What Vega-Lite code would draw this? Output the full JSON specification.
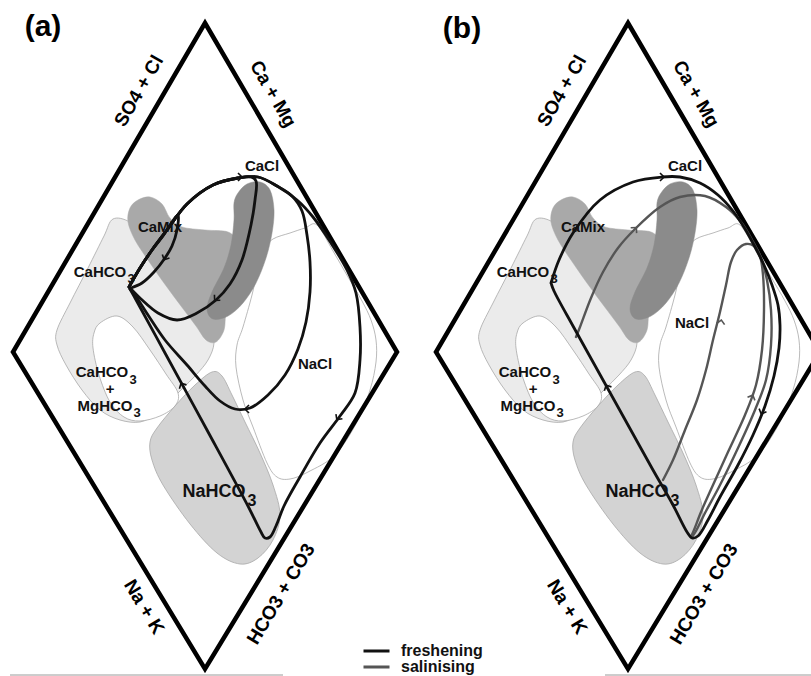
{
  "$schema": "https://vega.github.io/schema/vega-lite/v6.json",
  "padding": 0,
  "autosize": {"type": "pad"},
  "bounds": "flush",
  "spacing": 0,
  "background": "white",
  "config": {"view": {"stroke": null}},
  "resolve": {"scale": {"color": "shared"}, "legend": {"color": "shared"}},
  "datasets": {
    "field": [
      {"s":"light","i":1,"x":113,"y":219},{"s":"light","i":2,"x":130,"y":222},{"s":"light","i":3,"x":150,"y":238},{"s":"light","i":4,"x":172,"y":266},{"s":"light","i":5,"x":195,"y":300},{"s":"light","i":6,"x":210,"y":325},{"s":"light","i":7,"x":214,"y":343},{"s":"light","i":8,"x":208,"y":360},{"s":"light","i":9,"x":196,"y":375},{"s":"light","i":10,"x":182,"y":389},{"s":"light","i":11,"x":169,"y":402},{"s":"light","i":12,"x":156,"y":414},{"s":"light","i":13,"x":140,"y":422},{"s":"light","i":14,"x":120,"y":420},{"s":"light","i":15,"x":100,"y":410},{"s":"light","i":16,"x":82,"y":390},{"s":"light","i":17,"x":66,"y":365},{"s":"light","i":18,"x":57,"y":345},{"s":"light","i":19,"x":57,"y":330},{"s":"light","i":20,"x":70,"y":303},{"s":"light","i":21,"x":88,"y":268},{"s":"light","i":22,"x":104,"y":236},
      {"s":"hole","i":1,"x":100,"y":323},{"s":"hole","i":2,"x":117,"y":316},{"s":"hole","i":3,"x":133,"y":327},{"s":"hole","i":4,"x":150,"y":350},{"s":"hole","i":5,"x":166,"y":374},{"s":"hole","i":6,"x":178,"y":393},{"s":"hole","i":7,"x":175,"y":406},{"s":"hole","i":8,"x":160,"y":416},{"s":"hole","i":9,"x":140,"y":421},{"s":"hole","i":10,"x":124,"y":417},{"s":"hole","i":11,"x":110,"y":402},{"s":"hole","i":12,"x":99,"y":375},{"s":"hole","i":13,"x":93,"y":348},{"s":"hole","i":14,"x":94,"y":333},
      {"s":"nacl","i":1,"x":273,"y":239},{"s":"nacl","i":2,"x":290,"y":233},{"s":"nacl","i":3,"x":305,"y":228},{"s":"nacl","i":4,"x":317,"y":225},{"s":"nacl","i":5,"x":333,"y":251},{"s":"nacl","i":6,"x":348,"y":277},{"s":"nacl","i":7,"x":362,"y":301},{"s":"nacl","i":8,"x":371,"y":320},{"s":"nacl","i":9,"x":376,"y":340},{"s":"nacl","i":10,"x":376,"y":362},{"s":"nacl","i":11,"x":370,"y":390},{"s":"nacl","i":12,"x":357,"y":422},{"s":"nacl","i":13,"x":335,"y":455},{"s":"nacl","i":14,"x":308,"y":472},{"s":"nacl","i":15,"x":290,"y":479},{"s":"nacl","i":16,"x":277,"y":477},{"s":"nacl","i":17,"x":267,"y":463},{"s":"nacl","i":18,"x":253,"y":427},{"s":"nacl","i":19,"x":243,"y":400},{"s":"nacl","i":20,"x":236,"y":367},{"s":"nacl","i":21,"x":237,"y":345},{"s":"nacl","i":22,"x":243,"y":327},{"s":"nacl","i":23,"x":252,"y":295},{"s":"nacl","i":24,"x":258,"y":268},{"s":"nacl","i":25,"x":263,"y":250},
      {"s":"nahco3","i":1,"x":212,"y":372},{"s":"nahco3","i":2,"x":222,"y":376},{"s":"nahco3","i":3,"x":232,"y":395},{"s":"nahco3","i":4,"x":245,"y":422},{"s":"nahco3","i":5,"x":260,"y":453},{"s":"nahco3","i":6,"x":273,"y":485},{"s":"nahco3","i":7,"x":280,"y":515},{"s":"nahco3","i":8,"x":273,"y":540},{"s":"nahco3","i":9,"x":258,"y":558},{"s":"nahco3","i":10,"x":240,"y":564},{"s":"nahco3","i":11,"x":217,"y":553},{"s":"nahco3","i":12,"x":190,"y":524},{"s":"nahco3","i":13,"x":163,"y":485},{"s":"nahco3","i":14,"x":152,"y":460},{"s":"nahco3","i":15,"x":150,"y":442},{"s":"nahco3","i":16,"x":157,"y":428},{"s":"nahco3","i":17,"x":175,"y":406},{"s":"nahco3","i":18,"x":195,"y":385},
      {"s":"camix","i":1,"x":130,"y":208},{"s":"camix","i":2,"x":138,"y":200},{"s":"camix","i":3,"x":150,"y":197},{"s":"camix","i":4,"x":162,"y":204},{"s":"camix","i":5,"x":170,"y":218},{"s":"camix","i":6,"x":182,"y":227},{"s":"camix","i":7,"x":205,"y":230},{"s":"camix","i":8,"x":228,"y":232},{"s":"camix","i":9,"x":236,"y":242},{"s":"camix","i":10,"x":236,"y":265},{"s":"camix","i":11,"x":232,"y":292},{"s":"camix","i":12,"x":226,"y":312},{"s":"camix","i":13,"x":224,"y":330},{"s":"camix","i":14,"x":216,"y":342},{"s":"camix","i":15,"x":206,"y":340},{"s":"camix","i":16,"x":196,"y":326},{"s":"camix","i":17,"x":181,"y":306},{"s":"camix","i":18,"x":164,"y":283},{"s":"camix","i":19,"x":148,"y":260},{"s":"camix","i":20,"x":135,"y":240},{"s":"camix","i":21,"x":128,"y":222},
      {"s":"cacl","i":1,"x":238,"y":193},{"s":"cacl","i":2,"x":247,"y":184},{"s":"cacl","i":3,"x":260,"y":182},{"s":"cacl","i":4,"x":270,"y":190},{"s":"cacl","i":5,"x":274,"y":210},{"s":"cacl","i":6,"x":272,"y":233},{"s":"cacl","i":7,"x":266,"y":258},{"s":"cacl","i":8,"x":256,"y":283},{"s":"cacl","i":9,"x":243,"y":303},{"s":"cacl","i":10,"x":228,"y":316},{"s":"cacl","i":11,"x":213,"y":319},{"s":"cacl","i":12,"x":207,"y":309},{"s":"cacl","i":13,"x":212,"y":292},{"s":"cacl","i":14,"x":224,"y":268},{"s":"cacl","i":15,"x":231,"y":245},{"s":"cacl","i":16,"x":234,"y":220},{"s":"cacl","i":17,"x":234,"y":203},
      {"s":"diamond","i":1,"x":205,"y":23},{"s":"diamond","i":2,"x":397,"y":352},{"s":"diamond","i":3,"x":205,"y":669},{"s":"diamond","i":4,"x":13,"y":352}
    ],
    "labels": [
      {"k":"name","text":"CaCl","x":262,"y":166},
      {"k":"name","text":"CaMix","x":160,"y":227},
      {"k":"name","text":"CaHCO","x":100,"y":272},
      {"k":"sub","text":"3","x":131,"y":279},
      {"k":"name","text":"CaHCO","x":102,"y":372},
      {"k":"sub","text":"3","x":133,"y":380},
      {"k":"name","text":"+","x":110,"y":389},
      {"k":"name","text":"MgHCO","x":105,"y":406},
      {"k":"sub","text":"3","x":137,"y":413},
      {"k":"big","text":"NaHCO","x":214,"y":492},
      {"k":"bigsub","text":"3","x":252,"y":501},
      {"k":"ul","text":"SO4 + Cl","x":139,"y":91},
      {"k":"ur","text":"Ca + Mg","x":273,"y":94},
      {"k":"ll","text":"Na + K","x":144,"y":607},
      {"k":"lr","text":"HCO3 + CO3","x":281,"y":594}
    ],
    "tagsA": [
      {"k":"panel","text":"(a)","x":43,"y":27},
      {"k":"name","text":"NaCl","x":315,"y":364}
    ],
    "tagsB": [
      {"k":"panel","text":"(b)","x":39,"y":29},
      {"k":"name","text":"NaCl","x":269,"y":323}
    ],
    "baseA": [{"i":1,"x":10,"y":675},{"i":2,"x":283,"y":675}],
    "baseB": [{"i":1,"x":182,"y":675},{"i":2,"x":400,"y":675}],
    "pathsA": [
      {"p":"outer","process":"freshening","i":1,"x":129,"y":287},{"p":"outer","process":"freshening","i":2,"x":140,"y":268},{"p":"outer","process":"freshening","i":3,"x":152,"y":250},{"p":"outer","process":"freshening","i":4,"x":167,"y":230},{"p":"outer","process":"freshening","i":5,"x":187,"y":204},{"p":"outer","process":"freshening","i":6,"x":213,"y":185},{"p":"outer","process":"freshening","i":7,"x":238,"y":178},{"p":"outer","process":"freshening","i":8,"x":258,"y":177},{"p":"outer","process":"freshening","i":9,"x":277,"y":186},{"p":"outer","process":"freshening","i":10,"x":297,"y":200},{"p":"outer","process":"freshening","i":11,"x":313,"y":217},{"p":"outer","process":"freshening","i":12,"x":331,"y":243},{"p":"outer","process":"freshening","i":13,"x":347,"y":270},{"p":"outer","process":"freshening","i":14,"x":356,"y":293},{"p":"outer","process":"freshening","i":15,"x":360,"y":327},{"p":"outer","process":"freshening","i":16,"x":360,"y":360},{"p":"outer","process":"freshening","i":17,"x":355,"y":393},{"p":"outer","process":"freshening","i":18,"x":340,"y":416},{"p":"outer","process":"freshening","i":19,"x":320,"y":443},{"p":"outer","process":"freshening","i":20,"x":300,"y":477},{"p":"outer","process":"freshening","i":21,"x":284,"y":506},{"p":"outer","process":"freshening","i":22,"x":276,"y":526},{"p":"outer","process":"freshening","i":23,"x":270,"y":537},{"p":"outer","process":"freshening","i":24,"x":265,"y":538},{"p":"outer","process":"freshening","i":25,"x":261,"y":532},{"p":"outer","process":"freshening","i":26,"x":249,"y":508},{"p":"outer","process":"freshening","i":27,"x":207,"y":430},{"p":"outer","process":"freshening","i":28,"x":165,"y":353},{"p":"outer","process":"freshening","i":29,"x":135,"y":298},{"p":"outer","process":"freshening","i":30,"x":130,"y":289},
      {"p":"nacl","process":"freshening","i":1,"x":129,"y":287},{"p":"nacl","process":"freshening","i":2,"x":140,"y":268},{"p":"nacl","process":"freshening","i":3,"x":152,"y":250},{"p":"nacl","process":"freshening","i":4,"x":167,"y":230},{"p":"nacl","process":"freshening","i":5,"x":187,"y":204},{"p":"nacl","process":"freshening","i":6,"x":213,"y":185},{"p":"nacl","process":"freshening","i":7,"x":238,"y":178},{"p":"nacl","process":"freshening","i":8,"x":258,"y":177},{"p":"nacl","process":"freshening","i":9,"x":277,"y":186},{"p":"nacl","process":"freshening","i":10,"x":292,"y":196},{"p":"nacl","process":"freshening","i":11,"x":302,"y":211},{"p":"nacl","process":"freshening","i":12,"x":307,"y":235},{"p":"nacl","process":"freshening","i":13,"x":310,"y":262},{"p":"nacl","process":"freshening","i":14,"x":310,"y":292},{"p":"nacl","process":"freshening","i":15,"x":306,"y":322},{"p":"nacl","process":"freshening","i":16,"x":298,"y":349},{"p":"nacl","process":"freshening","i":17,"x":285,"y":375},{"p":"nacl","process":"freshening","i":18,"x":268,"y":395},{"p":"nacl","process":"freshening","i":19,"x":250,"y":408},{"p":"nacl","process":"freshening","i":20,"x":235,"y":409},{"p":"nacl","process":"freshening","i":21,"x":220,"y":401},{"p":"nacl","process":"freshening","i":22,"x":205,"y":386},{"p":"nacl","process":"freshening","i":23,"x":187,"y":365},{"p":"nacl","process":"freshening","i":24,"x":165,"y":340},{"p":"nacl","process":"freshening","i":25,"x":148,"y":315},{"p":"nacl","process":"freshening","i":26,"x":137,"y":298},{"p":"nacl","process":"freshening","i":27,"x":130,"y":289},
      {"p":"cacl","process":"freshening","i":1,"x":129,"y":287},{"p":"cacl","process":"freshening","i":2,"x":140,"y":268},{"p":"cacl","process":"freshening","i":3,"x":152,"y":250},{"p":"cacl","process":"freshening","i":4,"x":167,"y":230},{"p":"cacl","process":"freshening","i":5,"x":187,"y":204},{"p":"cacl","process":"freshening","i":6,"x":213,"y":185},{"p":"cacl","process":"freshening","i":7,"x":238,"y":178},{"p":"cacl","process":"freshening","i":8,"x":251,"y":177},{"p":"cacl","process":"freshening","i":9,"x":256,"y":181},{"p":"cacl","process":"freshening","i":10,"x":255,"y":200},{"p":"cacl","process":"freshening","i":11,"x":251,"y":225},{"p":"cacl","process":"freshening","i":12,"x":242,"y":260},{"p":"cacl","process":"freshening","i":13,"x":230,"y":284},{"p":"cacl","process":"freshening","i":14,"x":216,"y":300},{"p":"cacl","process":"freshening","i":15,"x":197,"y":313},{"p":"cacl","process":"freshening","i":16,"x":177,"y":320},{"p":"cacl","process":"freshening","i":17,"x":158,"y":313},{"p":"cacl","process":"freshening","i":18,"x":141,"y":299},{"p":"cacl","process":"freshening","i":19,"x":131,"y":289},
      {"p":"tear","process":"freshening","i":1,"x":129,"y":287},{"p":"tear","process":"freshening","i":2,"x":140,"y":268},{"p":"tear","process":"freshening","i":3,"x":152,"y":250},{"p":"tear","process":"freshening","i":4,"x":163,"y":236},{"p":"tear","process":"freshening","i":5,"x":172,"y":222},{"p":"tear","process":"freshening","i":6,"x":178,"y":215},{"p":"tear","process":"freshening","i":7,"x":177,"y":230},{"p":"tear","process":"freshening","i":8,"x":172,"y":246},{"p":"tear","process":"freshening","i":9,"x":165,"y":258},{"p":"tear","process":"freshening","i":10,"x":154,"y":272},{"p":"tear","process":"freshening","i":11,"x":142,"y":283},{"p":"tear","process":"freshening","i":12,"x":131,"y":288}
    ],
    "pathsB": [
      {"p":"loop","process":"freshening","i":1,"x":128,"y":283},{"p":"loop","process":"freshening","i":2,"x":131,"y":291},{"p":"loop","process":"freshening","i":3,"x":150,"y":326},{"p":"loop","process":"freshening","i":4,"x":170,"y":362},{"p":"loop","process":"freshening","i":5,"x":190,"y":398},{"p":"loop","process":"freshening","i":6,"x":210,"y":434},{"p":"loop","process":"freshening","i":7,"x":230,"y":470},{"p":"loop","process":"freshening","i":8,"x":250,"y":505},{"p":"loop","process":"freshening","i":9,"x":264,"y":532},{"p":"loop","process":"freshening","i":10,"x":269,"y":538},{"p":"loop","process":"freshening","i":11,"x":275,"y":536},{"p":"loop","process":"freshening","i":12,"x":285,"y":520},{"p":"loop","process":"freshening","i":13,"x":297,"y":497},{"p":"loop","process":"freshening","i":14,"x":315,"y":465},{"p":"loop","process":"freshening","i":15,"x":330,"y":435},{"p":"loop","process":"freshening","i":16,"x":342,"y":406},{"p":"loop","process":"freshening","i":17,"x":351,"y":376},{"p":"loop","process":"freshening","i":18,"x":356,"y":348},{"p":"loop","process":"freshening","i":19,"x":357,"y":325},{"p":"loop","process":"freshening","i":20,"x":355,"y":305},{"p":"loop","process":"freshening","i":21,"x":349,"y":285},{"p":"loop","process":"freshening","i":22,"x":341,"y":265},{"p":"loop","process":"freshening","i":23,"x":332,"y":247},{"p":"loop","process":"freshening","i":24,"x":322,"y":229},{"p":"loop","process":"freshening","i":25,"x":310,"y":211},{"p":"loop","process":"freshening","i":26,"x":295,"y":195},{"p":"loop","process":"freshening","i":27,"x":277,"y":183},{"p":"loop","process":"freshening","i":28,"x":257,"y":177},{"p":"loop","process":"freshening","i":29,"x":239,"y":177},{"p":"loop","process":"freshening","i":30,"x":210,"y":182},{"p":"loop","process":"freshening","i":31,"x":177,"y":200},{"p":"loop","process":"freshening","i":32,"x":150,"y":233},{"p":"loop","process":"freshening","i":33,"x":136,"y":260},{"p":"loop","process":"freshening","i":34,"x":128,"y":283},
      {"p":"arc","process":"salinising","i":1,"x":153,"y":337},{"p":"arc","process":"salinising","i":2,"x":157,"y":327},{"p":"arc","process":"salinising","i":3,"x":168,"y":298},{"p":"arc","process":"salinising","i":4,"x":180,"y":272},{"p":"arc","process":"salinising","i":5,"x":195,"y":248},{"p":"arc","process":"salinising","i":6,"x":212,"y":229},{"p":"arc","process":"salinising","i":7,"x":237,"y":207},{"p":"arc","process":"salinising","i":8,"x":257,"y":197},{"p":"arc","process":"salinising","i":9,"x":282,"y":196},{"p":"arc","process":"salinising","i":10,"x":303,"y":207},{"p":"arc","process":"salinising","i":11,"x":318,"y":222},{"p":"arc","process":"salinising","i":12,"x":329,"y":240},{"p":"arc","process":"salinising","i":13,"x":338,"y":258},{"p":"arc","process":"salinising","i":14,"x":344,"y":280},{"p":"arc","process":"salinising","i":15,"x":348,"y":310},{"p":"arc","process":"salinising","i":16,"x":348,"y":345},{"p":"arc","process":"salinising","i":17,"x":343,"y":380},{"p":"arc","process":"salinising","i":18,"x":332,"y":410},{"p":"arc","process":"salinising","i":19,"x":315,"y":448},{"p":"arc","process":"salinising","i":20,"x":296,"y":487},{"p":"arc","process":"salinising","i":21,"x":282,"y":513},{"p":"arc","process":"salinising","i":22,"x":273,"y":531},{"p":"arc","process":"salinising","i":23,"x":269,"y":537},
      {"p":"nacl","process":"salinising","i":1,"x":240,"y":480},{"p":"nacl","process":"salinising","i":2,"x":250,"y":460},{"p":"nacl","process":"salinising","i":3,"x":262,"y":430},{"p":"nacl","process":"salinising","i":4,"x":274,"y":400},{"p":"nacl","process":"salinising","i":5,"x":283,"y":370},{"p":"nacl","process":"salinising","i":6,"x":290,"y":340},{"p":"nacl","process":"salinising","i":7,"x":297,"y":312},{"p":"nacl","process":"salinising","i":8,"x":303,"y":285},{"p":"nacl","process":"salinising","i":9,"x":308,"y":262},{"p":"nacl","process":"salinising","i":10,"x":314,"y":250},{"p":"nacl","process":"salinising","i":11,"x":323,"y":244},{"p":"nacl","process":"salinising","i":12,"x":331,"y":246},{"p":"nacl","process":"salinising","i":13,"x":337,"y":256},{"p":"nacl","process":"salinising","i":14,"x":340,"y":275},{"p":"nacl","process":"salinising","i":15,"x":341,"y":310},{"p":"nacl","process":"salinising","i":16,"x":339,"y":350},{"p":"nacl","process":"salinising","i":17,"x":333,"y":385},{"p":"nacl","process":"salinising","i":18,"x":322,"y":415},{"p":"nacl","process":"salinising","i":19,"x":305,"y":452},{"p":"nacl","process":"salinising","i":20,"x":290,"y":485},{"p":"nacl","process":"salinising","i":21,"x":278,"y":512},{"p":"nacl","process":"salinising","i":22,"x":271,"y":530},{"p":"nacl","process":"salinising","i":23,"x":268,"y":537}
    ],
    "arrowsA": [
      {"process":"freshening","x":240,"y":177,"dir":0},
      {"process":"freshening","x":165,"y":258,"dir":117},
      {"process":"freshening","x":216,"y":299,"dir":133},
      {"process":"freshening","x":182,"y":385,"dir":242},
      {"process":"freshening","x":247,"y":409,"dir":180},
      {"process":"freshening","x":338,"y":418,"dir":126}
    ],
    "arrowsB": [
      {"process":"freshening","x":239,"y":177,"dir":0},
      {"process":"salinising","x":212,"y":229,"dir":-48},
      {"process":"salinising","x":298,"y":322,"dir":-80},
      {"process":"freshening","x":184,"y":387,"dir":242},
      {"process":"salinising","x":329,"y":397,"dir":-67},
      {"process":"freshening","x":339,"y":412,"dir":113}
    ]
  },
  "hconcat": [
    {
      "width": 423,
      "height": 676,
      "encoding": {
        "x": {"field": "x", "type": "quantitative", "scale": {"domain": [0, 423], "nice": false, "zero": false}, "axis": null},
        "y": {"field": "y", "type": "quantitative", "scale": {"domain": [0, 676], "nice": false, "zero": false, "reverse": true}, "axis": null}
      },
      "layer": [
        {"data": {"name": "field"}, "transform": [{"filter": {"field": "s", "equal": "light"}}], "mark": {"type": "line", "interpolate": "cardinal-closed", "fill": "#ebebeb", "stroke": "#a8a8a8", "strokeWidth": 0.8}, "encoding": {"order": {"field": "i", "type": "quantitative"}}},
        {"data": {"name": "field"}, "transform": [{"filter": {"field": "s", "equal": "hole"}}], "mark": {"type": "line", "interpolate": "cardinal-closed", "fill": "#ffffff", "stroke": "#a8a8a8", "strokeWidth": 0.8}, "encoding": {"order": {"field": "i", "type": "quantitative"}}},
        {"data": {"name": "field"}, "transform": [{"filter": {"field": "s", "equal": "nacl"}}], "mark": {"type": "line", "interpolate": "cardinal-closed", "fill": "#ffffff", "stroke": "#a8a8a8", "strokeWidth": 0.8}, "encoding": {"order": {"field": "i", "type": "quantitative"}}},
        {"data": {"name": "field"}, "transform": [{"filter": {"field": "s", "equal": "nahco3"}}], "mark": {"type": "line", "interpolate": "cardinal-closed", "fill": "#d3d3d3", "stroke": "#a8a8a8", "strokeWidth": 0.8}, "encoding": {"order": {"field": "i", "type": "quantitative"}}},
        {"data": {"name": "field"}, "transform": [{"filter": {"field": "s", "equal": "camix"}}], "mark": {"type": "line", "interpolate": "cardinal-closed", "fill": "#a9a9a9", "stroke": "#a9a9a9", "strokeWidth": 0.5}, "encoding": {"order": {"field": "i", "type": "quantitative"}}},
        {"data": {"name": "field"}, "transform": [{"filter": {"field": "s", "equal": "cacl"}}], "mark": {"type": "line", "interpolate": "cardinal-closed", "fill": "#8b8b8b", "stroke": "#8b8b8b", "strokeWidth": 0.5}, "encoding": {"order": {"field": "i", "type": "quantitative"}}},
        {"data": {"name": "field"}, "transform": [{"filter": {"field": "s", "equal": "diamond"}}], "mark": {"type": "line", "interpolate": "linear-closed", "stroke": "#000000", "strokeWidth": 4.5, "strokeJoin": "miter", "clip": true}, "encoding": {"order": {"field": "i", "type": "quantitative"}}},
        {"data": {"name": "baseA"}, "mark": {"type": "line", "stroke": "#9a9a9a", "strokeWidth": 1}, "encoding": {"order": {"field": "i", "type": "quantitative"}}},
        {"data": {"name": "pathsA"}, "mark": {"type": "line", "interpolate": "catmull-rom", "strokeWidth": 2.8, "strokeCap": "round", "strokeJoin": "round", "clip": true},
         "encoding": {
           "order": {"field": "i", "type": "quantitative"},
           "detail": {"field": "p", "type": "nominal"},
           "color": {"field": "process", "type": "nominal", "scale": {"domain": ["freshening", "salinising"], "range": ["#111111", "#555555"]},
             "legend": {"orient": "none", "legendX": 362, "legendY": 644, "title": null, "symbolType": "stroke", "symbolStrokeWidth": 3, "symbolSize": 676, "labelFont": "Liberation Sans", "labelFontWeight": "bold", "labelFontSize": 16, "labelColor": "#111111", "labelOffset": 10, "clipHeight": 14, "rowPadding": 0, "padding": 0}}
         }},
        {"data": {"name": "arrowsA"}, "mark": {"type": "point", "shape": "M-0.5,-1L0.5,0L-0.5,1", "filled": false, "size": 64, "strokeWidth": 1.6, "color": "#111111", "opacity": 1},
         "encoding": {"angle": {"field": "dir", "type": "quantitative", "scale": null}}},
        {"data": {"name": "labels"}, "transform": [{"filter": {"field": "k", "equal": "name"}}], "mark": {"type": "text", "font": "Liberation Sans", "fontWeight": "bold", "fontSize": 15, "color": "#111111"}, "encoding": {"text": {"field": "text", "type": "nominal"}}},
        {"data": {"name": "labels"}, "transform": [{"filter": {"field": "k", "equal": "sub"}}], "mark": {"type": "text", "font": "Liberation Sans", "fontWeight": "bold", "fontSize": 13, "color": "#111111"}, "encoding": {"text": {"field": "text", "type": "nominal"}}},
        {"data": {"name": "labels"}, "transform": [{"filter": {"field": "k", "equal": "big"}}], "mark": {"type": "text", "font": "Liberation Sans", "fontWeight": "bold", "fontSize": 18, "color": "#111111"}, "encoding": {"text": {"field": "text", "type": "nominal"}}},
        {"data": {"name": "labels"}, "transform": [{"filter": {"field": "k", "equal": "bigsub"}}], "mark": {"type": "text", "font": "Liberation Sans", "fontWeight": "bold", "fontSize": 16, "color": "#111111"}, "encoding": {"text": {"field": "text", "type": "nominal"}}},
        {"data": {"name": "labels"}, "transform": [{"filter": {"field": "k", "equal": "ul"}}], "mark": {"type": "text", "font": "Liberation Sans", "fontWeight": "bold", "fontSize": 19, "angle": -60, "color": "#000000"}, "encoding": {"text": {"field": "text", "type": "nominal"}}},
        {"data": {"name": "labels"}, "transform": [{"filter": {"field": "k", "equal": "ur"}}], "mark": {"type": "text", "font": "Liberation Sans", "fontWeight": "bold", "fontSize": 19, "angle": 60, "color": "#000000"}, "encoding": {"text": {"field": "text", "type": "nominal"}}},
        {"data": {"name": "labels"}, "transform": [{"filter": {"field": "k", "equal": "ll"}}], "mark": {"type": "text", "font": "Liberation Sans", "fontWeight": "bold", "fontSize": 19, "angle": 59, "color": "#000000"}, "encoding": {"text": {"field": "text", "type": "nominal"}}},
        {"data": {"name": "labels"}, "transform": [{"filter": {"field": "k", "equal": "lr"}}], "mark": {"type": "text", "font": "Liberation Sans", "fontWeight": "bold", "fontSize": 19, "angle": -59, "color": "#000000"}, "encoding": {"text": {"field": "text", "type": "nominal"}}},
        {"data": {"name": "tagsA"}, "transform": [{"filter": {"field": "k", "equal": "panel"}}], "mark": {"type": "text", "font": "Liberation Sans", "fontWeight": "bold", "fontSize": 30, "color": "#000000"}, "encoding": {"text": {"field": "text", "type": "nominal"}}},
        {"data": {"name": "tagsA"}, "transform": [{"filter": {"field": "k", "equal": "name"}}], "mark": {"type": "text", "font": "Liberation Sans", "fontWeight": "bold", "fontSize": 15, "color": "#111111"}, "encoding": {"text": {"field": "text", "type": "nominal"}}}
      ]
    },
    {
      "width": 388,
      "height": 676,
      "encoding": {
        "x": {"field": "x", "type": "quantitative", "scale": {"domain": [0, 388], "nice": false, "zero": false}, "axis": null},
        "y": {"field": "y", "type": "quantitative", "scale": {"domain": [0, 676], "nice": false, "zero": false, "reverse": true}, "axis": null}
      },
      "layer": [
        {"data": {"name": "field"}, "transform": [{"filter": {"field": "s", "equal": "light"}}], "mark": {"type": "line", "interpolate": "cardinal-closed", "fill": "#ebebeb", "stroke": "#a8a8a8", "strokeWidth": 0.8}, "encoding": {"order": {"field": "i", "type": "quantitative"}}},
        {"data": {"name": "field"}, "transform": [{"filter": {"field": "s", "equal": "hole"}}], "mark": {"type": "line", "interpolate": "cardinal-closed", "fill": "#ffffff", "stroke": "#a8a8a8", "strokeWidth": 0.8}, "encoding": {"order": {"field": "i", "type": "quantitative"}}},
        {"data": {"name": "field"}, "transform": [{"filter": {"field": "s", "equal": "nacl"}}], "mark": {"type": "line", "interpolate": "cardinal-closed", "fill": "#ffffff", "stroke": "#a8a8a8", "strokeWidth": 0.8}, "encoding": {"order": {"field": "i", "type": "quantitative"}}},
        {"data": {"name": "field"}, "transform": [{"filter": {"field": "s", "equal": "nahco3"}}], "mark": {"type": "line", "interpolate": "cardinal-closed", "fill": "#d3d3d3", "stroke": "#a8a8a8", "strokeWidth": 0.8}, "encoding": {"order": {"field": "i", "type": "quantitative"}}},
        {"data": {"name": "field"}, "transform": [{"filter": {"field": "s", "equal": "camix"}}], "mark": {"type": "line", "interpolate": "cardinal-closed", "fill": "#a9a9a9", "stroke": "#a9a9a9", "strokeWidth": 0.5}, "encoding": {"order": {"field": "i", "type": "quantitative"}}},
        {"data": {"name": "field"}, "transform": [{"filter": {"field": "s", "equal": "cacl"}}], "mark": {"type": "line", "interpolate": "cardinal-closed", "fill": "#8b8b8b", "stroke": "#8b8b8b", "strokeWidth": 0.5}, "encoding": {"order": {"field": "i", "type": "quantitative"}}},
        {"data": {"name": "field"}, "transform": [{"filter": {"field": "s", "equal": "diamond"}}], "mark": {"type": "line", "interpolate": "linear-closed", "stroke": "#000000", "strokeWidth": 4.5, "strokeJoin": "miter", "clip": true}, "encoding": {"order": {"field": "i", "type": "quantitative"}}},
        {"data": {"name": "baseB"}, "mark": {"type": "line", "stroke": "#9a9a9a", "strokeWidth": 1, "clip": true}, "encoding": {"order": {"field": "i", "type": "quantitative"}}},
        {"data": {"name": "pathsB"}, "transform": [{"filter": {"field": "process", "equal": "salinising"}}], "mark": {"type": "line", "interpolate": "catmull-rom", "strokeWidth": 2.4, "strokeCap": "round", "strokeJoin": "round", "clip": true},
         "encoding": {
           "order": {"field": "i", "type": "quantitative"},
           "detail": {"field": "p", "type": "nominal"},
           "color": {"field": "process", "type": "nominal", "scale": {"domain": ["freshening", "salinising"], "range": ["#111111", "#555555"]},
             "legend": {"orient": "none", "legendX": 362, "legendY": 644, "title": null, "symbolType": "stroke", "symbolStrokeWidth": 3, "symbolSize": 676, "labelFont": "Liberation Sans", "labelFontWeight": "bold", "labelFontSize": 16, "labelColor": "#111111", "labelOffset": 10, "clipHeight": 14, "rowPadding": 0, "padding": 0}}
         }},
        {"data": {"name": "pathsB"}, "transform": [{"filter": {"field": "process", "equal": "freshening"}}], "mark": {"type": "line", "interpolate": "catmull-rom", "strokeWidth": 2.8, "strokeCap": "round", "strokeJoin": "round", "clip": true},
         "encoding": {
           "order": {"field": "i", "type": "quantitative"},
           "detail": {"field": "p", "type": "nominal"},
           "color": {"field": "process", "type": "nominal", "scale": {"domain": ["freshening", "salinising"], "range": ["#111111", "#555555"]},
             "legend": {"orient": "none", "legendX": 362, "legendY": 644, "title": null, "symbolType": "stroke", "symbolStrokeWidth": 3, "symbolSize": 676, "labelFont": "Liberation Sans", "labelFontWeight": "bold", "labelFontSize": 16, "labelColor": "#111111", "labelOffset": 10, "clipHeight": 14, "rowPadding": 0, "padding": 0}}
         }},
        {"data": {"name": "arrowsB"}, "transform": [{"filter": {"field": "process", "equal": "freshening"}}], "mark": {"type": "point", "shape": "M-0.5,-1L0.5,0L-0.5,1", "filled": false, "size": 64, "strokeWidth": 1.6, "color": "#111111", "opacity": 1, "clip": true},
         "encoding": {"angle": {"field": "dir", "type": "quantitative", "scale": null}}},
        {"data": {"name": "arrowsB"}, "transform": [{"filter": {"field": "process", "equal": "salinising"}}], "mark": {"type": "point", "shape": "M-0.5,-1L0.5,0L-0.5,1", "filled": false, "size": 64, "strokeWidth": 1.6, "color": "#555555", "opacity": 1, "clip": true},
         "encoding": {"angle": {"field": "dir", "type": "quantitative", "scale": null}}},
        {"data": {"name": "labels"}, "transform": [{"filter": {"field": "k", "equal": "name"}}], "mark": {"type": "text", "font": "Liberation Sans", "fontWeight": "bold", "fontSize": 15, "color": "#111111"}, "encoding": {"text": {"field": "text", "type": "nominal"}}},
        {"data": {"name": "labels"}, "transform": [{"filter": {"field": "k", "equal": "sub"}}], "mark": {"type": "text", "font": "Liberation Sans", "fontWeight": "bold", "fontSize": 13, "color": "#111111"}, "encoding": {"text": {"field": "text", "type": "nominal"}}},
        {"data": {"name": "labels"}, "transform": [{"filter": {"field": "k", "equal": "big"}}], "mark": {"type": "text", "font": "Liberation Sans", "fontWeight": "bold", "fontSize": 18, "color": "#111111"}, "encoding": {"text": {"field": "text", "type": "nominal"}}},
        {"data": {"name": "labels"}, "transform": [{"filter": {"field": "k", "equal": "bigsub"}}], "mark": {"type": "text", "font": "Liberation Sans", "fontWeight": "bold", "fontSize": 16, "color": "#111111"}, "encoding": {"text": {"field": "text", "type": "nominal"}}},
        {"data": {"name": "labels"}, "transform": [{"filter": {"field": "k", "equal": "ul"}}], "mark": {"type": "text", "font": "Liberation Sans", "fontWeight": "bold", "fontSize": 19, "angle": -60, "color": "#000000"}, "encoding": {"text": {"field": "text", "type": "nominal"}}},
        {"data": {"name": "labels"}, "transform": [{"filter": {"field": "k", "equal": "ur"}}], "mark": {"type": "text", "font": "Liberation Sans", "fontWeight": "bold", "fontSize": 19, "angle": 60, "color": "#000000"}, "encoding": {"text": {"field": "text", "type": "nominal"}}},
        {"data": {"name": "labels"}, "transform": [{"filter": {"field": "k", "equal": "ll"}}], "mark": {"type": "text", "font": "Liberation Sans", "fontWeight": "bold", "fontSize": 19, "angle": 59, "color": "#000000"}, "encoding": {"text": {"field": "text", "type": "nominal"}}},
        {"data": {"name": "labels"}, "transform": [{"filter": {"field": "k", "equal": "lr"}}], "mark": {"type": "text", "font": "Liberation Sans", "fontWeight": "bold", "fontSize": 19, "angle": -59, "color": "#000000"}, "encoding": {"text": {"field": "text", "type": "nominal"}}},
        {"data": {"name": "tagsB"}, "transform": [{"filter": {"field": "k", "equal": "panel"}}], "mark": {"type": "text", "font": "Liberation Sans", "fontWeight": "bold", "fontSize": 30, "color": "#000000"}, "encoding": {"text": {"field": "text", "type": "nominal"}}},
        {"data": {"name": "tagsB"}, "transform": [{"filter": {"field": "k", "equal": "name"}}], "mark": {"type": "text", "font": "Liberation Sans", "fontWeight": "bold", "fontSize": 15, "color": "#111111"}, "encoding": {"text": {"field": "text", "type": "nominal"}}}
      ]
    }
  ]
}
